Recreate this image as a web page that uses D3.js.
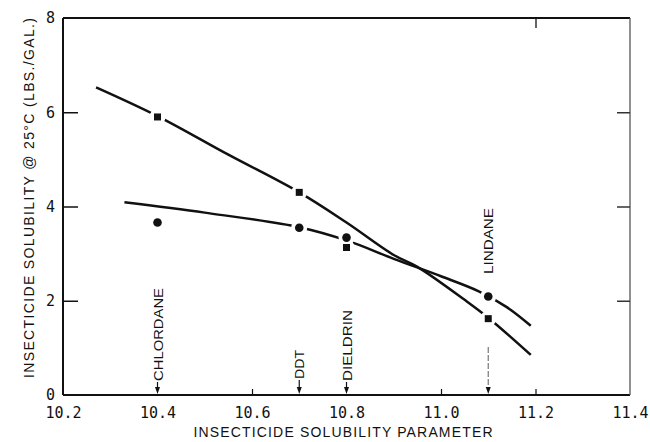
<!DOCTYPE html>
<html><head><meta charset="utf-8">
<script src="https://cdn.jsdelivr.net/npm/d3@7"></script>
<style>html,body{margin:0;padding:0;background:#fff}</style>
</head><body>
<svg id="c" width="650" height="442"></svg>
<script>
// ---- data ----
const xTicks = [10.2, 10.4, 10.6, 10.8, 11.0, 11.2, 11.4];
const xTickLabels = ["10.2", "10.4", "10.6", "10.8", "11.0", "11.2", "11.4"];
const yTicks = [0, 2, 4, 6, 8];
const insecticides = ["CHLORDANE", "DDT", "DIELDRIN", "LINDANE"];
const solubilityParam = [10.4, 10.7, 10.8, 11.1];
const squareValues = [5.9, 4.3, 3.13, 1.62];
const circleValues = [3.66, 3.55, 3.34, 2.09];
const squareCurveX = [10.27, 10.4, 10.55, 10.7, 10.8, 10.9, 10.95, 11.05, 11.1, 11.19];
const squareCurveY = [6.53, 5.92, 5.1, 4.3, 3.66, 2.97, 2.72, 2.02, 1.64, 0.85];
const circleCurveX = [10.33, 10.5, 10.7, 10.8, 10.9, 11.0, 11.08, 11.14, 11.19];
const circleCurveY = [4.09, 3.87, 3.56, 3.28, 2.89, 2.52, 2.2, 1.86, 1.47];

// ---- layout ----
const svg = d3.select("#c");
const x = d3.scaleLinear().domain([10.2, 11.4]).range([63, 630]);
const y = d3.scaleLinear().domain([0, 8]).range([395, 18]);
const ink = "#111";

// frame
svg.append("line").attr("x1", x(10.2)).attr("x2", x(10.2)).attr("y1", y(0)).attr("y2", y(8)).attr("stroke", ink).attr("stroke-width", 2);
svg.append("line").attr("x1", x(10.2)).attr("x2", x(11.4)).attr("y1", y(0)).attr("y2", y(0)).attr("stroke", ink).attr("stroke-width", 2);
svg.append("line").attr("x1", x(10.2)).attr("x2", x(11.4)).attr("y1", y(8)).attr("y2", y(8)).attr("stroke", ink).attr("stroke-width", 2);
svg.append("line").attr("x1", x(11.4)).attr("x2", x(11.4)).attr("y1", y(0)).attr("y2", y(8)).attr("stroke", "#555").attr("stroke-width", 1.3);

// axes with inward ticks
const yAxisL = d3.axisLeft(y).tickValues(yTicks).tickSize(-15).tickPadding(8).tickFormat(d3.format("d"));
const gy = svg.append("g").attr("transform", `translate(${x(10.2)},0)`).call(yAxisL);
gy.select(".domain").remove();
gy.selectAll(".tick line").filter(d => d === 0 || d === 8).remove();
gy.selectAll(".tick line").attr("stroke", ink).attr("stroke-width", 1.5);
gy.selectAll("text").attr("font-family", "DejaVu Sans Mono, monospace").attr("font-size", 15).attr("fill", ink).attr("text-anchor", "end");

const yAxisR = d3.axisRight(y).tickValues([2, 4, 6]).tickSize(-13).tickFormat("");
const gyr = svg.append("g").attr("transform", `translate(${x(11.4)},0)`).call(yAxisR);
gyr.select(".domain").remove();
gyr.selectAll(".tick line").attr("stroke", "#333").attr("stroke-width", 1.5);

const xAxis = d3.axisBottom(x).tickValues(xTicks).tickSize(-6).tickPadding(12).tickFormat((d, i) => xTickLabels[i]);
const gx = svg.append("g").attr("transform", `translate(0,${y(0)})`).call(xAxis);
gx.select(".domain").remove();
gx.selectAll(".tick line").filter(d => !(d === 10.6 || d === 11.0 || d === 11.2)).remove();
gx.selectAll(".tick line").attr("stroke", ink).attr("stroke-width", 1.2);
gx.selectAll("text").attr("font-family", "DejaVu Sans Mono, monospace").attr("font-size", 15).attr("fill", ink);

// top tick at 11.2
const xAxisT = d3.axisTop(x).tickValues([11.2]).tickSize(-10).tickFormat("");
const gxt = svg.append("g").attr("transform", `translate(0,${y(8)})`).call(xAxisT);
gxt.select(".domain").remove();
gxt.selectAll(".tick line").attr("stroke", ink).attr("stroke-width", 1.3);

// axis titles
svg.append("text").attr("x", 343).attr("y", 437).attr("text-anchor", "middle")
  .attr("font-family", "Liberation Sans, Arial, sans-serif").attr("font-size", 14).attr("fill", ink)
  .attr("textLength", 299).attr("lengthAdjust", "spacing")
  .text("INSECTICIDE SOLUBILITY PARAMETER");
svg.append("text").attr("transform", "translate(34,198) rotate(-90)").attr("text-anchor", "middle")
  .attr("font-family", "Liberation Sans, Arial, sans-serif").attr("font-size", 14).attr("fill", ink)
  .attr("textLength", 360).attr("lengthAdjust", "spacing")
  .text("INSECTICIDE SOLUBILITY @ 25°C (LBS./GAL.)");

// curves
const line = d3.line().x(d => x(d[0])).y(d => y(d[1])).curve(d3.curveCatmullRom.alpha(0.5));
const sqCurve = squareCurveX.map((v, i) => [v, squareCurveY[i]]);
const ciCurve = circleCurveX.map((v, i) => [v, circleCurveY[i]]);
svg.append("path").attr("d", line(sqCurve)).attr("fill", "none").attr("stroke", ink).attr("stroke-width", 2.5);
svg.append("path").attr("d", line(ciCurve)).attr("fill", "none").attr("stroke", ink).attr("stroke-width", 2.5);

// insecticide labels with arrows
const labelGap = [ {top: 288, bottom: 381}, {top: 350, bottom: 379}, {top: 310, bottom: 381}, {top: 208, bottom: 274} ];
insecticides.forEach((name, i) => {
  const xp = x(solubilityParam[i]);
  const g = svg.append("g");
  const lb = labelGap[i];
  g.append("text").attr("transform", `translate(${xp + 5},${lb.bottom}) rotate(-90)`)
    .attr("font-family", "Liberation Sans, Arial, sans-serif").attr("font-size", 13).attr("fill", ink)
    .attr("textLength", lb.bottom - lb.top).attr("lengthAdjust", "spacingAndGlyphs")
    .text(name);
  const startY = name === "LINDANE" ? 347 : lb.bottom + 1;
  g.append("line").attr("x1", xp).attr("x2", xp).attr("y1", startY).attr("y2", y(0) - 5)
    .attr("stroke", name === "LINDANE" ? "#777" : ink).attr("stroke-width", 1.2)
    .attr("stroke-dasharray", name === "LINDANE" ? "6,2" : null);
  g.append("path").attr("d", `M${xp - 2.5},${y(0) - 8} L${xp + 2.5},${y(0) - 8} L${xp},${y(0) - 1} Z`).attr("fill", ink);
});

// markers
const sq = solubilityParam.map((v, i) => [v, squareValues[i]]);
const ci = solubilityParam.map((v, i) => [v, circleValues[i]]);
svg.selectAll("circle.halo").data(sq.concat(ci)).enter().append("circle")
  .attr("cx", d => x(d[0])).attr("cy", d => y(d[1])).attr("r", 8).attr("fill", "#fff");
svg.selectAll("rect.sq").data(sq).enter().append("rect").attr("class", "sq")
  .attr("x", d => x(d[0]) - 3.5).attr("y", d => y(d[1]) - 3.5).attr("width", 7).attr("height", 7).attr("fill", ink);
svg.selectAll("circle.ci").data(ci).enter().append("circle").attr("class", "ci")
  .attr("cx", d => x(d[0])).attr("cy", d => y(d[1])).attr("r", 4.3).attr("fill", ink);
</script>
</body></html>
